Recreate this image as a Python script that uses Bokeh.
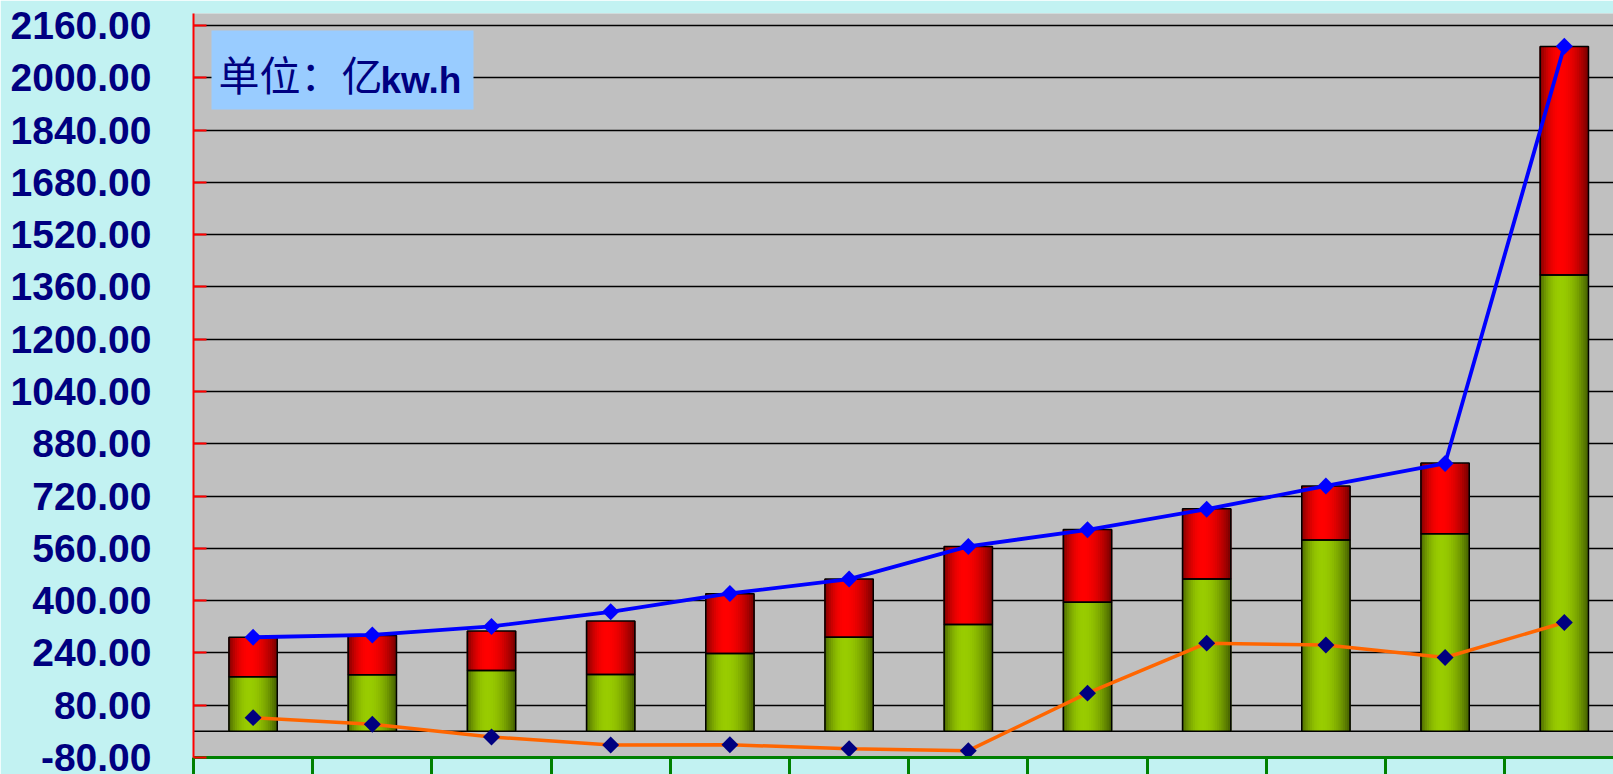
import numpy as np
from bokeh.plotting import figure
from bokeh.models import (Range1d, FixedTicker, NumeralTickFormatter, Span, Label,
                          BoxAnnotation, ColumnDataSource)
from bokeh.embed import file_html
from bokeh.resources import INLINE

# ---------------- data ----------------
categories = ["1", "2", "3", "4", "5", "6", "7", "8", "9", "10", "11", "12"]
green_values = [167, 173, 186, 174, 238, 288, 327, 395, 466, 586, 605, 1397]
red_values = [121, 120, 121, 164, 183, 178, 239, 223, 215, 165, 216, 699]
blue_line = [288, 295, 321, 366, 422, 466, 566, 617, 680, 751, 820, 2097]
orange_line = [42, 22, -17, -42, -41, -53, -59, 117, 270, 264, 226, 333]
y_ticks = list(range(-80, 2161, 160))
unit_cn = "单位：亿"
unit_en = "kw.h"

# ---------------- layout ----------------
W, H = 1613, 774
LEFT, TOP, BOTTOM = 193, 13, 17
CAT_PX = 119.2
frame_w = W - LEFT
n = len(categories)
xc = np.arange(n) + 0.5
BAR_W = 0.405

p = figure(width=W, height=H, output_backend="svg", toolbar_location=None,
           x_range=Range1d(0, frame_w / CAT_PX), y_range=Range1d(-80, 2197),
           min_border_left=LEFT, min_border_right=0, min_border_top=TOP,
           min_border_bottom=BOTTOM,
           background_fill_color="#C0C0C0", border_fill_color="#C2F2F2",
           outline_line_color=None)

# grid
p.xgrid.visible = False
p.ygrid.ticker = FixedTicker(ticks=y_ticks[1:])
p.ygrid.grid_line_color = "black"
p.ygrid.grid_line_width = 1.5
p.add_layout(Span(location=0, dimension="width", line_color="black",
                  line_width=1.5, level="underlay"))

# ---------------- cylinder-shaded stacked bars ----------------
def lerp(c1, c2, t):
    return "#%02x%02x%02x" % tuple(int(round(a + (b - a) * t)) for a, b in zip(c1, c2))

def shade(u, peak=0.42):
    d = (peak - u) / peak if u < peak else (u - peak) / (1 - peak)
    return 1 - d ** 2.0

NS = 22
green_dark, green_bright = (70, 98, 0), (153, 204, 0)
red_dark, red_bright = (120, 0, 0), (255, 0, 0)
green_arr = np.array(green_values, dtype=float)
total_arr = green_arr + np.array(red_values, dtype=float)

xs, bots, tops, cols = [], [], [], []
for k in range(NS):
    u = (k + 0.5) / NS
    t = shade(u)
    gx = xc + (u - 0.5) * BAR_W
    xs += list(gx); bots += [0.0] * n; tops += list(green_arr)
    cols += [lerp(green_dark, green_bright, t)] * n
    xs += list(gx); bots += list(green_arr); tops += list(total_arr)
    cols += [lerp(red_dark, red_bright, t)] * n
strip_src = ColumnDataSource(dict(x=xs, bottom=bots, top=tops, color=cols))
p.vbar(x="x", bottom="bottom", top="top", width=BAR_W / NS * 1.6,
       fill_color="color", line_color=None, source=strip_src)

p.vbar(x=xc, bottom=0, top=green_arr, width=BAR_W, fill_color=None,
       line_color="black", line_width=1.5)
p.vbar(x=xc, bottom=green_arr, top=total_arr, width=BAR_W, fill_color=None,
       line_color="black", line_width=1.5)

# ---------------- lines ----------------
p.line(xc, orange_line, line_color="#FF6600", line_width=3.5)
p.line(xc, blue_line, line_color="#0000FF", line_width=3.8)
p.scatter(xc, orange_line, marker="square", angle=np.pi / 4, size=12,
          fill_color="#000080", line_color=None)
p.scatter(xc, blue_line, marker="square", angle=np.pi / 4, size=12,
          fill_color="#0000FF", line_color=None)

# ---------------- axes ----------------
yax = p.yaxis[0]
yax.ticker = FixedTicker(ticks=y_ticks)
yax.formatter = NumeralTickFormatter(format="0.00")
yax.axis_line_color = "#FF0000"
yax.axis_line_width = 2
yax.major_tick_in = 13
yax.major_tick_out = 0
yax.major_tick_line_color = "#FF0000"
yax.major_tick_line_width = 2
yax.minor_tick_line_color = None
yax.major_label_text_font = "Liberation Sans"
yax.major_label_text_font_size = "39px"
yax.major_label_text_font_style = "bold"
yax.major_label_text_color = "#000080"
yax.major_label_standoff = 42

xax = p.xaxis[0]
xax.ticker = FixedTicker(ticks=list(range(n + 1)))
xax.axis_line_color = "#008000"
xax.axis_line_width = 3
xax.major_tick_line_color = "#008000"
xax.major_tick_line_width = 3
xax.major_tick_out = 17
xax.major_tick_in = 0
xax.minor_tick_line_color = None
xax.major_label_text_font_size = "0px"
xax.major_label_text_color = None
xax.major_label_standoff = 0

# ---------------- unit box ----------------
p.add_layout(BoxAnnotation(left=211, right=473, top=30, bottom=109,
                           left_units="canvas", right_units="canvas",
                           top_units="canvas", bottom_units="canvas",
                           fill_color="#99CCFF", fill_alpha=1.0, line_color=None))
p.add_layout(Label(x=218, y=72, x_units="canvas", y_units="canvas", text=unit_cn,
                   text_font="Noto Sans CJK SC", text_font_size="41px",
                   text_color="#000080", text_align="left",
                   text_baseline="middle"))
p.add_layout(Label(x=380, y=80, x_units="canvas", y_units="canvas", text=unit_en,
                   text_font="Liberation Sans", text_font_size="37px",
                   text_font_style="bold", text_color="#000080", text_align="left",
                   text_baseline="middle"))

open("out.html", "w").write(file_html(p, INLINE))
